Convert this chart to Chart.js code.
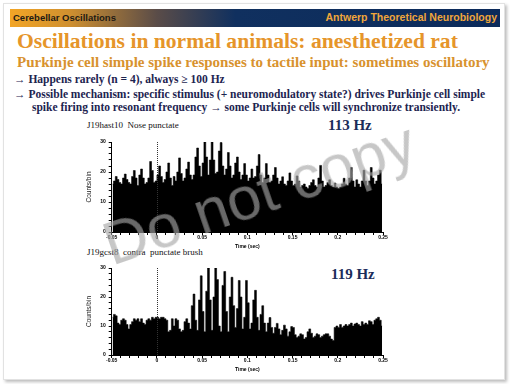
<!DOCTYPE html>
<html lang="en">
<head>
<meta charset="UTF-8">
<title>Cerebellar Oscillations</title>
<script src="https://cdn.jsdelivr.net/npm/chart.js"></script>
<style>
    body { margin: 0; width: 512px; height: 384px; background: #fff; overflow: hidden; position: relative; font-family: "Liberation Serif", serif; }
    .slide { position: absolute; left: 3px; top: 3px; width: 500px; height: 375px; border: 1px solid #e2e2e2; box-shadow: 2px 2px 3px #bdbdbd; background: #fff; }
    .header { position: absolute; left: 10px; top: 9px; width: 490px; height: 18px;
        background: linear-gradient(to right, #f2a526 0%, #d0902f 12%, #5a4c48 30%, #10305f 46%, #0b2a5a 100%); }
    .header .l { position: absolute; left: 3px; top: 3px; font: bold 9.5px "Liberation Sans", Arial, sans-serif; color: #1e1a14; }
    .header .r { position: absolute; right: 3px; top: 2px; font: bold 10.5px "Liberation Sans", Arial, sans-serif; color: #f0a63a; }
    .txt { position: absolute; white-space: nowrap; }
    .title { left: 17px; top: 29px; font-weight: bold; font-size: 21.6px; color: #e6952a; }
    .sub { left: 17px; top: 54px; font-weight: bold; font-size: 15px; color: #d8922e; }
    .bul { font-size: 11.5px; font-weight: bold; color: #1d2450; }
    .lab { font-size: 9px; color: #111; }
    .hz { font-size: 15px; font-weight: bold; color: #1b2d5a; }
    canvas { position: absolute; }
    .wm { position: absolute; left: 259px; top: 193px; transform: translate(-50%, -50%) rotate(-19deg);
        font: 61px "Liberation Sans", Arial, sans-serif; color: rgba(167,167,167,0.63); white-space: nowrap; }
</style>
</head>
<body>
<div class="slide"></div>
<div class="header"><span class="l">Cerebellar Oscillations</span><span class="r">Antwerp Theoretical Neurobiology</span></div>
<div class="txt title">Oscillations in normal animals: anesthetized rat</div>
<div class="txt sub">Purkinje cell simple spike responses to tactile input: sometimes oscillatory</div>
<div class="txt bul" style="left:14px;top:73px">&rarr; Happens rarely (n = 4), always &ge; 100 Hz</div>
<div class="txt bul" style="left:14px;top:88px">&rarr; Possible mechanism: specific stimulus (+ neuromodulatory state?) drives Purkinje cell simple</div>
<div class="txt bul" style="left:32px;top:101px">spike firing into resonant frequency &rarr; some Purkinje cells will synchronize transiently.</div>

<div class="txt lab" style="left:87px;top:120px">J19hast10&nbsp; Nose punctate</div>
<div class="txt hz" style="left:328px;top:117px">113 Hz</div>
<div class="txt lab" style="left:87px;top:247px">J19gcst8&nbsp; contra&nbsp; punctate brush</div>
<div class="txt hz" style="left:331px;top:266px">119 Hz</div>

<canvas id="hast10" width="312" height="114" style="left:80px;top:136px"></canvas>
<canvas id="gcst8" width="312" height="111" style="left:80px;top:262px"></canvas>

<div class="wm">Do not copy</div>

<script>
    // histogram bins: 2 ms wide, from -0.05 s to 0.25 s
    const binStart = -0.05;
    const binWidth = 0.002;
    const xTicks = [-0.05, 0, 0.05, 0.1, 0.15, 0.2, 0.25];
    const yTicks = [0, 10, 20, 30];

    // J19hast10, Nose punctate (counts/bin)
    const hast10Counts = [
        16, 17, 18.5, 17.5, 16.5, 16, 18, 19.3, 17.5, 16.5,
        16, 18.5, 20.5, 18, 15.5, 19, 21, 18, 16, 16.5,
        18, 23.5, 20.5, 16.5, 17, 19, 22, 18.5, 16.5, 17.5,
        20, 23, 18, 15.5, 18.5, 17, 20, 24.7, 19.5, 17,
        18, 21, 23.3, 19, 17.5, 19, 25, 28, 22, 18.5,
        23, 30, 25, 19, 24, 30, 24, 19.5, 20, 27,
        29.8, 22, 19, 21, 26.5, 22, 18, 19, 23, 25,
        20, 17.5, 19, 22.8, 19, 17, 18, 21, 18, 18.5,
        22, 25.8, 19, 16.5, 18, 22.8, 19, 16.5, 17, 19,
        21.5, 18, 16, 17, 18.4, 16, 15.5, 17, 19.7, 17,
        15.5, 16, 18.7, 17, 15, 15.5, 16, 15, 14.5, 15.5,
        16.5, 17.4, 15.5, 15, 18, 22.2, 17, 15, 15.5, 16.5,
        17.4, 15.5, 15, 16.3, 15, 14.5, 15, 16, 17.9, 16,
        15.5, 18, 21.5, 17, 15, 17.4, 16, 15, 17, 20.6,
        17, 15.5, 17, 21.5, 18, 16, 17, 19, 20.6, 16
    ];

    // J19gcst8, contra punctate brush (counts/bin)
    const gcst8Counts = [
        13, 14, 13.5, 11, 10.5, 12, 12.5, 12, 10.5, 9,
        10.5, 11.5, 12.5, 12, 12.5, 11.5, 12.5, 11, 10.5, 12,
        12.5, 12, 13, 12.5, 13, 13, 12.5, 13, 13, 12.5,
        12, 8, 8.5, 12.5, 10, 12.5, 12, 9, 8, 8.5,
        11.5, 12.5, 11, 9, 17, 21, 12, 8.5, 19, 27.3,
        15, 8, 22, 30, 19, 8.5, 20, 30, 26, 10,
        8, 24, 28.8, 15, 8, 20, 26.8, 17, 9.5, 16,
        25.7, 20, 9, 13, 25.7, 18, 9, 11, 19, 22.3,
        13, 8.5, 14, 17, 11, 8, 11, 12.9, 9.5, 7.5,
        9.5, 10.9, 9, 7, 8.5, 10.3, 9, 6.5, 8, 9.8,
        9.5, 7, 6, 6.5, 7.3, 7, 5.5, 6, 8, 9,
        7.5, 6, 6.5, 7.3, 7, 6, 6.5, 7, 7.3, 7.3,
        6.5, 5.5, 5, 9.5, 10, 9.5, 10.5, 9.5, 10, 10.5,
        10, 10.5, 11, 10, 10.7, 11, 10.5, 10, 11.5, 10.5,
        11, 10.5, 11.8, 11.5, 10.5, 12, 12.5, 13, 12, 10
    ];

    const tickFont = { family: 'Liberation Sans', size: 5, weight: 'bold' };

    // dotted line at stimulus time
    const stimLine = {
        id: 'stimLine',
        afterDatasetsDraw(chart) {
            const { ctx, chartArea, scales } = chart;
            const x = Math.round(scales.x.getPixelForValue(0)) + 0.5;
            ctx.save();
            ctx.strokeStyle = '#333';
            ctx.lineWidth = 1;
            ctx.setLineDash([1, 1]);
            ctx.beginPath();
            ctx.moveTo(x, chartArea.top);
            ctx.lineTo(x, chartArea.bottom);
            ctx.stroke();
            ctx.restore();
        }
    };

    function makeHist(id, counts, padTop) {
        // bin centres; the stepped fill turns them into a solid histogram
        const points = counts.map((c, i) => ({ x: binStart + binWidth * (i + 0.5), y: c }));
        return new Chart(document.getElementById(id), {
            type: 'line',
            data: {
                datasets: [{
                    data: points,
                    stepped: 'middle',
                    fill: 'origin',
                    backgroundColor: '#000',
                    borderColor: '#000',
                    borderWidth: 0.6,
                    pointRadius: 0
                }]
            },
            options: {
                responsive: false,
                animation: false,
                layout: { padding: { top: padTop, right: 9, left: 0, bottom: 0 } },
                plugins: { legend: { display: false }, tooltip: { enabled: false } },
                scales: {
                    x: {
                        type: 'linear',
                        min: -0.05,
                        max: 0.25,
                        afterFit: (s) => { s.height = 18; },
                        border: { display: true, color: '#000', width: 1 },
                        grid: { drawOnChartArea: false, color: '#000', tickLength: 3 },
                        ticks: {
                            stepSize: 0.01,
                            autoSkip: false,
                            maxRotation: 0,
                            padding: 0,
                            color: '#000',
                            font: tickFont,
                            callback: (v) => {
                                const r = Math.round(v * 100) / 100;
                                return xTicks.includes(r) ? String(r) : '';
                            }
                        },
                        title: { display: true, text: 'Time (sec)', color: '#000', font: tickFont, padding: 0 }
                    },
                    y: {
                        min: 0,
                        max: 30,
                        afterFit: (s) => { s.width = 31.7; },
                        border: { display: true, color: '#000', width: 1 },
                        grid: { drawOnChartArea: false, color: '#000', tickLength: 3 },
                        ticks: {
                            stepSize: 2,
                            autoSkip: false,
                            padding: 3,
                            color: '#000',
                            font: tickFont,
                            callback: (v) => yTicks.includes(v) ? String(v) : ''
                        },
                        title: { display: true, text: 'Counts/bin', color: '#222',
                            font: { family: 'Liberation Sans', size: 6.5 }, padding: { top: 5, bottom: 0 } }
                    }
                }
            },
            plugins: [stimLine]
        });
    }

    makeHist('hast10', hast10Counts, 3.5);
    makeHist('gcst8', gcst8Counts, 4);
</script>
</body>
</html>
